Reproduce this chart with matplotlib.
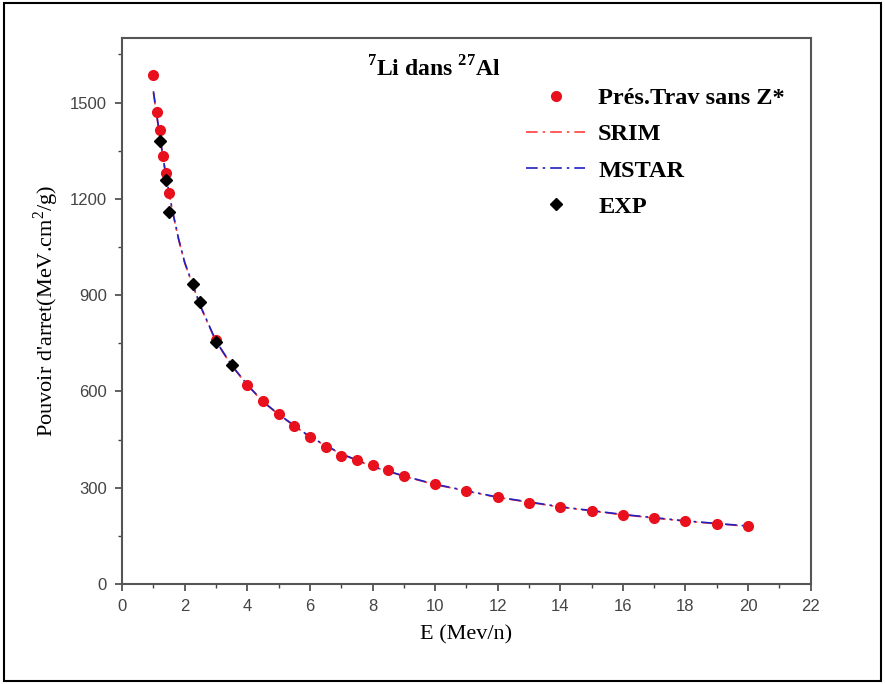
import matplotlib.pyplot as plt
from matplotlib.patches import Rectangle

plt.rcParams["mathtext.fontset"] = "custom"
plt.rcParams["mathtext.rm"] = "Liberation Serif"
plt.rcParams["mathtext.bf"] = "Liberation Serif:bold"

# Présent travail (sans Z*)
E_pres = [1.0, 1.1, 1.2, 1.3, 1.4, 1.5, 3.0, 4.0, 4.5, 5.0, 5.5, 6.0, 6.5, 7.0, 7.5,
          8.0, 8.5, 9.0, 10, 11, 12, 13, 14, 15, 16, 17, 18, 19, 20]
S_pres = [1587, 1472, 1413, 1332, 1279, 1217, 760, 621, 569, 531, 493, 458, 427, 398, 388,
          370, 354, 338, 312, 290, 270, 254, 240, 227, 215, 207, 198, 187, 180]

# SRIM / MSTAR
E_calc = [1.0, 1.2, 1.4, 1.6, 1.8, 2.0, 2.5, 3.0, 3.5, 4.0, 4.5, 5.0, 6.0, 7.0, 8.0,
          9.0, 10, 12, 14, 16, 18, 20]
S_srim = [1530, 1395, 1270, 1165, 1075, 1000, 865, 755, 680, 620, 568, 528, 458, 405, 366,
          336, 310, 270, 240, 216, 196, 180]
S_mstar = [1535, 1398, 1272, 1167, 1077, 1002, 867, 757, 682, 621, 569, 529, 459, 406, 367,
           337, 311, 271, 241, 217, 197, 181]

# Expérience
E_exp = [1.2, 1.4, 1.5, 2.25, 2.5, 3.0, 3.5]
S_exp = [1380, 1260, 1158, 935, 880, 755, 683]

fig = plt.figure(figsize=(8.85, 6.84), dpi=100)
ax = fig.add_axes([0.138, 0.146, 0.778, 0.798])

ax.plot(E_calc, S_srim, color="#ff4040", ls=(0, (7, 3, 1.5, 3)), lw=1.2, label="SRIM")
ax.plot(E_calc, S_mstar, color="#2020c0", ls=(0, (7, 3, 1.5, 3)), lw=1.2, label="MSTAR")
ax.plot(E_pres, S_pres, "o", color="#e8101c", ms=7, ls="none", label="Prés.Trav sans Z*")
ax.plot(E_exp, S_exp, "D", color="black", ms=6, ls="none", label="EXP")

ax.set_xlim(0, 22)
ax.set_ylim(0, 1700)
ax.set_xticks(range(0, 23, 2))
ax.set_xticks(range(1, 22, 2), minor=True)
ax.set_yticks(range(0, 1501, 300))
ax.set_yticks(range(150, 1700, 300), minor=True)
ax.tick_params(which="both", direction="out", top=False, right=False, colors="#444444",
               labelcolor="#444444")
ax.tick_params(which="major", length=5, width=1.2, labelsize=12, pad=6)
ax.tick_params(which="minor", length=3, width=1.0)
for lab in ax.get_xticklabels() + ax.get_yticklabels():
    lab.set_family("Liberation Sans")
for sp in ax.spines.values():
    sp.set_color("#555555")
    sp.set_linewidth(1.5)

ax.set_xlabel("E (Mev/n)", family="Liberation Serif", fontsize=16, labelpad=8)
ax.set_ylabel("Pouvoir d'arret(MeV.cm$^2$/g)", family="Liberation Serif", fontsize=16,
              labelpad=6)
ax.text(0.452, 0.944, r"$^{\mathbf{7}}$Li dans $^{\mathbf{27}}$Al", transform=ax.transAxes,
        ha="center", va="center", family="Liberation Serif", fontweight="bold", fontsize=17)

handles, labels = ax.get_legend_handles_labels()
order = [2, 0, 1, 3]
ax.legend([handles[i] for i in order], [labels[i] for i in order], loc="upper left",
          bbox_to_anchor=(0.573, 0.928), frameon=False, handlelength=2.4,
          handletextpad=0.55, labelspacing=0.58, borderaxespad=0,
          prop={"family": "Liberation Serif", "weight": "bold", "size": 17.5})

fig.patches.append(Rectangle((0.004, 0.004), 0.992, 0.992, transform=fig.transFigure,
                             fill=False, edgecolor="black", lw=1.5))

fig.savefig("out.png", dpi=100)
